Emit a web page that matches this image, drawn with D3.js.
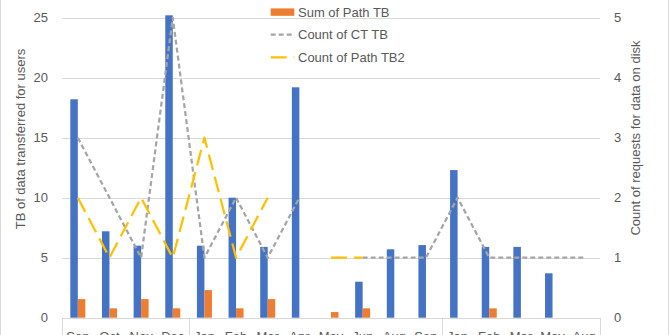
<!DOCTYPE html>
<html><head><meta charset="utf-8">
<script src="https://cdn.jsdelivr.net/npm/d3@7"></script>
<style>
html,body{margin:0;padding:0;background:#fff;overflow:hidden;}
text{font-family:"Liberation Sans",Arial,sans-serif;fill:#595959;}
</style></head>
<body>
<svg id="chart" width="670" height="335"></svg>
<script>
// ---- data ----
const categories = ["Sep","Oct","Nov","Dec","Jan","Feb","Mar","Apr","May","Jun","Aug","Sep","Jan","Feb","Mar","May","Aug"];
const groupSizes = [4, 8, 5];
const sumCT   = [18.2, 7.2, 6.0, 25.2, 6.0, 10.0, 5.9, 19.2, null, 3.0, 5.7, 6.05, 12.3, 5.9, 5.9, 3.7, null];
const sumPath = [1.55, 0.78, 1.55, 0.78, 2.3, 0.78, 1.55, null, 0.47, 0.78, null, null, null, 0.78, null, null, null];
const countCT = [3, 2, 1, 5, 1, 2, 1, 2, null, 1, 1, 1, 2, 1, 1, 1, 1];
const countPath = [2, 1, 2, 1, 3, 1, 2, null, 1, 1, null, null, null, null, null, null, null];
const leftTicks = [0, 5, 10, 15, 20, 25];
const rightTicks = [0, 1, 2, 3, 4, 5];
const legendItems = [
  {name:"Sum of CT TB", type:"bar", color:"#4472C4"},
  {name:"Sum of Path TB", type:"bar", color:"#ED7D31"},
  {name:"Count of CT TB", type:"line", color:"#A5A5A5", dash:"5,3"},
  {name:"Count of Path TB2", type:"line", color:"#FFC000", dash:"16,7"}
];

const svg = d3.select("#chart");
const L = 62, R = 600, T = 17.7, B = 317.7;

const x = d3.scaleBand().domain(d3.range(categories.length)).range([L, R]).padding(0);
const step = x.bandwidth();
const x1 = d3.scaleBand().domain(["ct","path"]).range([step*0.263, step*0.737]).padding(0);
const yL = d3.scaleLinear().domain([0, 25]).range([B, T]);
const yR = d3.scaleLinear().domain([0, 5]).range([B, T]);

// border
svg.append("rect").attr("x",0.5).attr("y",-10).attr("width",668).attr("height",400)
  .attr("fill","none").attr("stroke","#d9d9d9");

// gridlines
svg.append("g").selectAll("line").data(leftTicks.slice(1)).join("line")
  .attr("x1",L).attr("x2",R).attr("y1",d=>Math.round(yL(d))+0.5).attr("y2",d=>Math.round(yL(d))+0.5)
  .attr("stroke","#d9d9d9").attr("stroke-width",1);

// bars
const bars = svg.append("g");
bars.selectAll("rect.ct").data(sumCT.map((v,i)=>({v,i})).filter(d=>d.v!=null)).join("rect")
  .attr("x",d=>x(d.i)+x1("ct")).attr("width",x1.bandwidth())
  .attr("y",d=>yL(d.v)).attr("height",d=>B-yL(d.v)).attr("fill","#4472C4");
bars.selectAll("rect.path").data(sumPath.map((v,i)=>({v,i})).filter(d=>d.v!=null)).join("rect")
  .attr("x",d=>x(d.i)+x1("path")).attr("width",x1.bandwidth())
  .attr("y",d=>yL(d.v)).attr("height",d=>B-yL(d.v)).attr("fill","#ED7D31");

// x axis line and group ticks
svg.append("line").attr("x1",L).attr("x2",R).attr("y1",Math.round(B)+0.5).attr("y2",Math.round(B)+0.5)
  .attr("stroke","#d9d9d9");
let acc = 0;
const bounds = [0];
groupSizes.forEach(g=>{acc+=g; bounds.push(acc);});
svg.append("g").selectAll("line").data(bounds).join("line")
  .attr("x1",d=>Math.round(L+d*step)+0.5).attr("x2",d=>Math.round(L+d*step)+0.5)
  .attr("y1",B).attr("y2",360).attr("stroke","#d9d9d9");

// category labels
svg.append("g").selectAll("text").data(categories).join("text")
  .attr("x",(d,i)=>x(i)+step/2).attr("y",341).attr("text-anchor","middle")
  .attr("font-size",13).text(d=>d);

// lines
function drawLine(vals, color, dash){
  const line = d3.line().defined(d=>d.v!=null).x(d=>x(d.i)+step/2).y(d=>yR(d.v));
  svg.append("path").datum(vals.map((v,i)=>({v,i})))
    .attr("d",line).attr("fill","none").attr("stroke",color).attr("stroke-width",2.25)
    .attr("stroke-dasharray",dash).attr("stroke-linejoin","round");
}
drawLine(countCT, "#A5A5A5", "5,3");
drawLine(countPath, "#FFC000", "16,7");

// left tick labels
svg.append("g").selectAll("text").data(leftTicks).join("text")
  .attr("x",48).attr("y",d=>yL(d)).attr("dy","0.35em").attr("text-anchor","end")
  .attr("font-size",13).text(d=>d);
// right tick labels
svg.append("g").selectAll("text").data(rightTicks).join("text")
  .attr("x",614).attr("y",d=>yR(d)).attr("dy","0.35em").attr("text-anchor","start")
  .attr("font-size",13).text(d=>d);

// axis titles
svg.append("text").attr("transform","translate(20,139) rotate(-90)")
  .attr("text-anchor","middle").attr("dy","0.35em").attr("font-size",13)
  .text("TB of data transferred  for users");
svg.append("text").attr("transform","translate(635,138) rotate(-90)")
  .attr("text-anchor","middle").attr("dy","0.35em").attr("font-size",13)
  .text("Count of requests for data on disk");

// legend
const lg = svg.append("g");
legendItems.forEach((d,k)=>{
  const yy = -10.5 + k*22.6;
  if(d.type==="bar"){
    lg.append("rect").attr("x",270.7).attr("y",yy-3.7).attr("width",23.6).attr("height",7.4).attr("fill",d.color);
  } else {
    lg.append("line").attr("x1",270.7).attr("x2",294.3).attr("y1",yy).attr("y2",yy)
      .attr("stroke",d.color).attr("stroke-width",2.25).attr("stroke-dasharray",d.dash);
  }
  lg.append("text").attr("x",298).attr("y",yy).attr("dy","0.35em").attr("font-size",13).text(d.name);
});
</script>
</body></html>
